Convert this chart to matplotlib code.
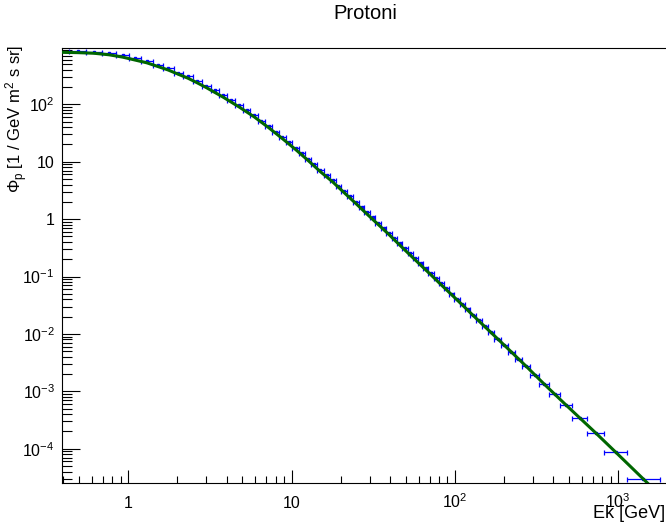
import numpy as np
import matplotlib
matplotlib.use("Agg")
import matplotlib.pyplot as plt
from matplotlib.ticker import FixedLocator, FixedFormatter, NullFormatter

plt.rcParams["font.family"] = ["Liberation Sans", "DejaVu Sans"]
plt.rcParams["mathtext.fontset"] = "custom"
plt.rcParams["mathtext.rm"] = "Liberation Sans"
plt.rcParams["mathtext.it"] = "Liberation Sans:italic"
plt.rcParams["mathtext.bf"] = "Liberation Sans:bold"

# kinetic energy bin edges [GeV]
ek_edges = [0.433, 0.554, 0.689, 0.840, 1.012, 1.199, 1.408, 1.639, 1.892, 2.176,
            2.483, 2.821, 3.190, 3.590, 4.031, 4.513, 5.036, 5.600, 6.214, 6.878,
            7.593, 8.369, 9.205, 10.10, 11.10, 12.10, 13.19, 14.39, 15.69, 17.09,
            18.59, 20.18, 21.88, 23.78, 25.78, 27.88, 30.18, 32.58, 35.17, 37.97,
            40.97, 44.17, 47.57, 51.27, 55.17, 59.37, 63.87, 68.77, 73.97, 79.57,
            85.57, 92.07, 99.07, 107.1, 115.1, 124.1, 134.1, 146.1, 159.1, 174.1,
            191.1, 210.1, 232.1, 258.1, 290.1, 329.1, 378.1, 440.1, 524.1, 642.1,
            821.1, 1129.1, 1799.1]

# proton flux per bin [1 / GeV m^2 s sr]
flux = [835, 820, 775, 710, 630, 565, 490, 425, 358, 308,
        255, 211, 175, 145, 119, 97.3, 79.6, 65.2, 51.8, 42.4,
        33.3, 27.3, 21.8, 17.5, 14.0, 11.3, 9.12, 7.16, 5.86, 4.80,
        3.82, 3.09, 2.52, 2.01, 1.64, 1.31, 1.075, 0.865, 0.708, 0.579,
        0.463, 0.379, 0.310, 0.253, 0.207, 0.169, 0.138, 0.113, 0.0925, 0.0757,
        0.0619, 0.0506, 0.0411, 0.0334, 0.0275, 0.0217, 0.0173, 0.0138, 0.0108, 0.0083,
        0.0065, 0.0049, 0.0037, 0.00274, 0.00195, 0.00134, 0.00090, 0.000574, 0.000348, 0.000190,
        8.77e-5, 2.97e-5]

# fitted curve, sampled
fit_ek = [0.391, 0.49, 0.618, 0.761, 0.922, 1.102, 1.30, 1.52, 1.76, 2.03,
          2.32, 2.65, 3.0, 3.8, 4.77, 5.9, 7.23, 8.78, 10.59, 12.63,
          15.03, 17.82, 21.01, 24.76, 29.0, 33.85, 39.44, 45.84, 53.18, 61.58,
          71.32, 82.51, 95.5, 111, 129, 152.4, 182.4, 220.8, 273.6, 352.7,
          480.2, 726.1, 962.8, 1425, 1800]
fit_flux = [805, 795, 775, 730, 665, 590, 528, 455, 395, 333,
            285, 236, 196, 134, 90, 60.5, 39.3, 25.3, 16.3, 10.5,
            6.68, 4.47, 2.88, 1.87, 1.22, 0.81, 0.54, 0.355, 0.237, 0.159,
            0.107, 0.0715, 0.0482, 0.0320, 0.0211, 0.0134, 0.00825, 0.0049, 0.00272, 0.00133,
            0.000574, 0.000190, 8.77e-5, 2.97e-5, 1.56e-5]

x_ticks = [1, 10, 100, 1000]
x_tick_labels = ["1", "10", r"$10^{2}$", r"$10^{3}$"]
y_ticks = [1e-4, 1e-3, 1e-2, 1e-1, 1, 10, 100]
y_tick_labels = [r"$10^{-4}$", r"$10^{-3}$", r"$10^{-2}$", r"$10^{-1}$", "1", "10", r"$10^{2}$"]

W, H = 666, 527
fig = plt.figure(figsize=(W / 100, H / 100), dpi=100)
ax = fig.add_axes([61.7 / W, 1 - 482.7 / H, (667.5 - 61.7) / W, (482.7 - 48.3) / H])

edges = np.array(ek_edges)
lo, hi = edges[:-1], edges[1:]
centers = np.sqrt(lo * hi)
ax.errorbar(centers, flux, xerr=[centers - lo, hi - centers], fmt="s", color="blue",
            ms=2.0, elinewidth=0.9, capsize=1.8, capthick=0.9, zorder=2)
ax.plot(fit_ek, fit_flux, color="#006600", lw=2.2, zorder=3)

ax.set_xscale("log")
ax.set_yscale("log")
ax.set_xlim(0.391, 2004)
ax.set_ylim(10 ** -4.592, 10 ** 2.976)

minor_x = [k * 10.0 ** n for n in range(-1, 4) for k in range(2, 10)]
minor_y = [k * 10.0 ** n for n in range(-5, 3) for k in range(2, 10)]
ax.xaxis.set_major_locator(FixedLocator(x_ticks))
ax.xaxis.set_major_formatter(FixedFormatter(x_tick_labels))
ax.xaxis.set_minor_locator(FixedLocator(minor_x))
ax.xaxis.set_minor_formatter(NullFormatter())
ax.yaxis.set_major_locator(FixedLocator(y_ticks))
ax.yaxis.set_major_formatter(FixedFormatter(y_tick_labels))
ax.yaxis.set_minor_locator(FixedLocator(minor_y))
ax.yaxis.set_minor_formatter(NullFormatter())

ax.tick_params(axis="both", which="both", direction="in", width=0.8, labelsize=11.5,
               top=False, right=False)
ax.tick_params(axis="x", which="major", length=9.1, pad=18)
ax.tick_params(axis="x", which="minor", length=4.8)
ax.tick_params(axis="y", which="major", length=13, pad=5)
ax.tick_params(axis="y", which="minor", length=7.2)
for lab in ax.get_xticklabels():
    lab.set_verticalalignment("baseline")
for sp in ax.spines.values():
    sp.set_linewidth(0.8)

fig.text(365 / W, 1 - 13.5 / H, "Protoni", ha="center", va="center", fontsize=14.5)
fig.text(665 / W, 1 - 513 / H, "Ek [GeV]", ha="right", va="center", fontsize=13)
fig.text(17 / W, 1 - 45 / H, r"$\Phi_{\mathrm{p}}$ [1 / GeV m$^{2}$ s sr]",
         rotation=90, ha="center", va="top", fontsize=12)

fig.savefig("out.png", dpi=100)
